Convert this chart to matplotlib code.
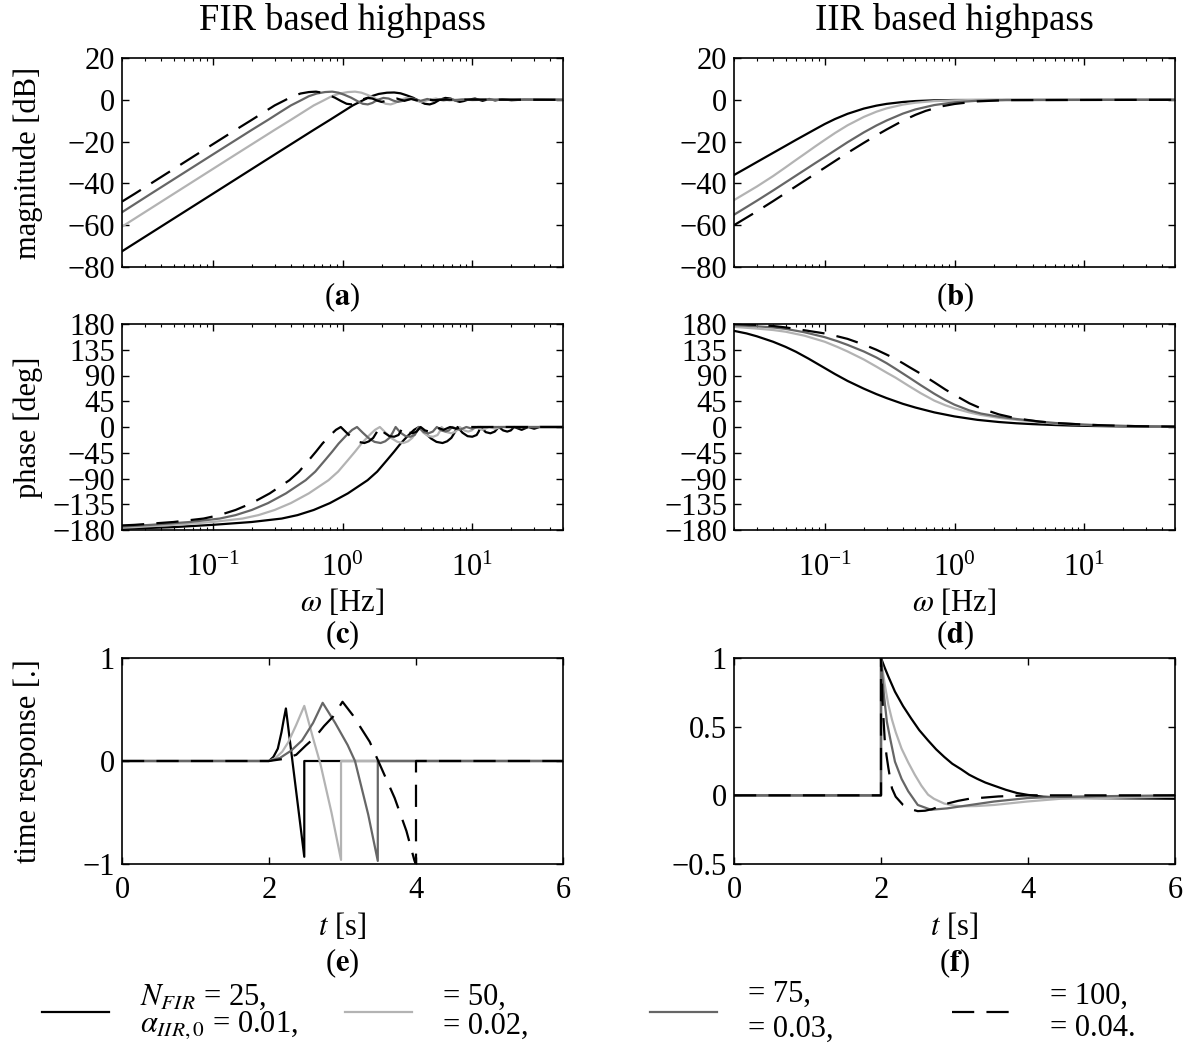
import matplotlib
matplotlib.use("Agg")
import matplotlib.pyplot as plt
from matplotlib import ticker

plt.rcParams["font.family"] = ["Liberation Serif", "DejaVu Serif"]
plt.rcParams["mathtext.fontset"] = "stix"
plt.rcParams["font.size"] = 22
plt.rcParams["axes.linewidth"] = 1.2

# filter settings (legend)
n_fir = [25, 50, 75, 100]
alpha_iir = [0.01, 0.02, 0.03, 0.04]

# (a) FIR magnitude, dB over frequency in Hz
fir_mag_f1 = [0.02, 0.1, 0.3, 0.6, 0.8, 1.0, 1.2, 1.42, 1.65, 1.9, 2.2, 2.5, 2.8, 3.1, 3.5, 3.9, 4.3,
              4.7, 5.1, 5.6, 6.2, 6.8, 7.4, 8.0, 8.6, 9.2, 10.5, 12, 13.5, 15, 17, 20, 25, 50]
fir_mag_f2 = [0.02, 0.05, 0.15, 0.3, 0.4, 0.5, 0.6, 0.71, 0.825, 0.95, 1.1, 1.25, 1.4, 1.55, 1.75, 1.95,
              2.15, 2.35, 2.55, 2.8, 3.1, 3.4, 3.7, 4.0, 4.3, 4.6, 5.25, 6, 6.75, 7.5, 8.5, 10, 12.5, 50]
fir_mag_f3 = [0.02, 0.0333, 0.1, 0.2, 0.267, 0.333, 0.4, 0.473, 0.55, 0.633, 0.733, 0.833, 0.933, 1.033,
              1.167, 1.3, 1.433, 1.567, 1.7, 1.867, 2.067, 2.267, 2.467, 2.667, 2.867, 3.067, 3.5, 4,
              4.5, 5, 5.667, 6.667, 8.333, 50]
fir_mag_f4 = [0.02, 0.025, 0.075, 0.15, 0.2, 0.25, 0.3, 0.355, 0.4125, 0.475, 0.55, 0.625, 0.7, 0.775,
              0.875, 0.975, 1.075, 1.175, 1.275, 1.4, 1.55, 1.7, 1.85, 2.0, 2.15, 2.3, 2.625, 3, 3.375,
              3.75, 4.25, 5, 6.25, 50]
fir_mag_db1 = [-72.5, -45, -26.2, -14.4, -9.6, -5.8, -2.7, -0.4, 1.6, 2.8, 3.4, 3.5, 3.1, 2.2, 1.0, -0.6,
               -1.9, -2.2, -1.5, 0, 0.9, 0.6, -0.4, -1.0, -0.6, 0, 0.6, -0.5, 0.4, -0.3, 0.3, -0.2, 0.1, 0]
fir_mag_db2 = [-60.7, -45, -26.2, -14.4, -9.6, -5.8, -2.7, -0.4, 1.7, 3.0, 3.7, 3.9, 3.4, 2.4, 1.0, -0.6,
               -1.9, -2.2, -1.5, 0, 0.9, 0.6, -0.4, -1.0, -0.6, 0, 0.6, -0.5, 0.4, -0.3, 0.3, -0.2, 0.1, 0]
fir_mag_db3 = [-53.8, -45, -26.2, -14.4, -9.6, -5.8, -2.7, -0.4, 1.7, 3.0, 3.7, 3.9, 3.4, 2.4, 1.0, -0.6,
               -1.9, -2.2, -1.5, 0, 0.9, 0.6, -0.4, -1.0, -0.6, 0, 0.6, -0.5, 0.4, -0.3, 0.3, -0.2, 0.1, 0]
fir_mag_db4 = [-48.7, -45, -26.2, -14.4, -9.6, -5.8, -2.7, -0.4, 1.7, 3.0, 3.7, 3.9, 3.4, 2.4, 1.0, -0.6,
               -1.9, -2.2, -1.5, 0, 0.9, 0.6, -0.4, -1.0, -0.6, 0, 0.6, -0.5, 0.4, -0.3, 0.3, -0.2, 0.1, 0]

# (c) FIR phase, deg
fir_ph_f1 = [0.02, 0.05, 0.1, 0.2, 0.34, 0.45, 0.6, 0.8, 1.1, 1.3, 1.56, 1.85, 2.2, 2.5, 2.8, 3.2, 3.56,
             3.88, 4.3, 4.8, 5.3, 5.9, 6.4, 6.9, 7.3, 7.7, 8.4, 9.2, 10, 10.8, 11.2, 11.6, 12.7, 13.8,
             14.9, 16, 17.3, 18.6, 19.8, 21, 24, 27, 30, 33, 50]
fir_ph_deg1 = [-178, -175, -171, -166, -160, -154, -145, -133, -116, -105, -93, -78, -58, -43, -29, -15,
               -5, 0, -10, -20, -26, -28, -25, -19, -10, 0, -10, -16, -17, -14, -8, 0, -9, -11,
               -8, 0, -6, -8, -6, 0, -5, 0, -3, 0, 0]
fir_ph_f2 = [0.02, 0.025, 0.05, 0.1, 0.17, 0.225, 0.3, 0.4, 0.55, 0.65, 0.78, 0.925, 1.1, 1.25, 1.4, 1.6,
             1.78, 1.94, 2.15, 2.4, 2.65, 2.95, 3.2, 3.45, 3.65, 3.85, 4.2, 4.6, 5, 5.4, 5.6, 5.8, 6.35,
             6.9, 7.45, 8, 8.65, 9.3, 9.9, 10.5, 12, 13.5, 15, 16.5, 50]
fir_ph_deg2 = [-176, -175, -171, -166, -160, -154, -145, -133, -116, -105, -93, -78, -58, -43, -29, -15,
               -5, 0, -10, -20, -26, -28, -25, -19, -10, 0, -10, -16, -17, -14, -8, 0, -9, -11,
               -8, 0, -6, -8, -6, 0, -5, 0, -3, 0, 0]
fir_ph_f3 = [0.02, 0.0333, 0.0667, 0.1133, 0.15, 0.2, 0.2667, 0.3667, 0.4333, 0.52, 0.6167, 0.7333,
             0.8333, 0.9333, 1.0667, 1.1867, 1.2933, 1.4333, 1.6, 1.7667, 1.9667, 2.1333, 2.3, 2.4333,
             2.5667, 2.8, 3.0667, 3.3333, 3.6, 3.7333, 3.8667, 4.2333, 4.6, 4.9667, 5.3333, 5.7667, 6.2,
             6.6, 7, 8, 9, 10, 11, 50]
fir_ph_deg3 = [-174, -171, -166, -160, -154, -145, -133, -116, -105, -93, -78, -58, -43, -29, -15, -5, 0,
               -10, -20, -26, -28, -25, -19, -10, 0, -10, -16, -17, -14, -8, 0, -9, -11, -8, 0, -6, -8,
               -6, 0, -5, 0, -3, 0, 0]
fir_ph_f4 = [0.02, 0.025, 0.05, 0.085, 0.1125, 0.15, 0.2, 0.275, 0.325, 0.39, 0.4625, 0.55, 0.625, 0.7,
             0.8, 0.89, 0.97, 1.075, 1.2, 1.325, 1.475, 1.6, 1.725, 1.825, 1.925, 2.1, 2.3, 2.5, 2.7,
             2.8, 2.9, 3.175, 3.45, 3.725, 4, 4.325, 4.65, 4.95, 5.25, 6, 6.75, 7.5, 8.25, 50]
fir_ph_deg4 = [-172, -171, -166, -160, -154, -145, -133, -116, -105, -93, -78, -58, -43, -29, -15, -5, 0,
               -10, -20, -26, -28, -25, -19, -10, 0, -10, -16, -17, -14, -8, 0, -9, -11, -8, 0, -6, -8,
               -6, 0, -5, 0, -3, 0, 0]

# (b) IIR magnitude, dB
iir_mag_f1 = [0.02, 0.025, 0.03, 0.04, 0.05, 0.06, 0.07, 0.085, 0.1, 0.12, 0.15, 0.2, 0.25, 0.3, 0.4,
              0.5, 0.7, 1, 50]
iir_mag_db1 = [-36, -32.6, -29.8, -25.4, -22, -19.2, -16.9, -14, -11.6, -9.2, -6.7, -4.2, -2.8, -1.95,
               -1.05, -0.6, -0.25, -0.1, 0]
iir_mag_f2 = [0.02, 0.03, 0.04, 0.05, 0.06, 0.07, 0.085, 0.1, 0.12, 0.15, 0.2, 0.25, 0.3, 0.4, 0.5, 0.7,
              1.0, 1.5, 50]
iir_mag_db2 = [-48, -41.5, -36.5, -32.3, -28.8, -25.9, -22.2, -19.2, -15.9, -12.2, -8.2, -5.7, -4.1, -2.3,
               -1.4, -0.6, -0.25, -0.08, 0]
iir_mag_f3 = [0.02, 0.03, 0.04, 0.05, 0.06, 0.07, 0.085, 0.1, 0.12, 0.15, 0.2, 0.25, 0.3, 0.4, 0.5, 0.7,
              1.0, 1.5, 2.5, 50]
iir_mag_db3 = [-55, -48.3, -43.4, -39.5, -36.3, -33.6, -30.2, -27.4, -24.2, -20.3, -15.6, -12.3, -9.9,
               -6.6, -4.6, -2.5, -1.2, -0.45, -0.1, 0]
iir_mag_f4 = [0.02, 0.03, 0.04, 0.05, 0.06, 0.07, 0.085, 0.1, 0.12, 0.15, 0.2, 0.25, 0.3, 0.4, 0.5, 0.6,
              0.8, 1.0, 1.5, 2.5, 50]
iir_mag_db4 = [-60, -53.4, -48.5, -44.6, -41.4, -38.7, -35.3, -32.5, -29.3, -25.4, -20.6, -17, -14.2, -10,
               -7.2, -5.3, -3.1, -2, -0.75, -0.15, 0]

# (d) IIR phase, deg
iir_ph_f1 = [0.02, 0.025, 0.03, 0.04, 0.05, 0.06, 0.075, 0.1, 0.12, 0.15, 0.2, 0.25, 0.3, 0.4, 0.5, 0.7,
             1.0, 1.5, 2.2, 3, 4, 6, 8, 12, 20, 50]
iir_ph_deg1 = [168, 163.5, 158.5, 149, 140, 131.5, 119.5, 103, 92.5, 80.5, 67, 57.5, 50.5, 40.5, 34, 25.5,
               18.5, 12.5, 8.7, 6.5, 5, 3.4, 2.5, 1.7, 1, 0.4]
iir_ph_f2 = [0.02, 0.03, 0.04, 0.05, 0.07, 0.1, 0.125, 0.15, 0.2, 0.25, 0.3, 0.35, 0.45, 0.55, 0.7, 0.85,
             1.0, 1.3, 1.6, 2.2, 3, 4.5, 6, 10, 15, 25, 50]
iir_ph_deg2 = [175, 172, 169.5, 166.5, 159.5, 149, 140, 132, 118, 105.5, 95, 86.5, 71, 59, 46, 38, 32.5,
               25.5, 21, 16, 12.5, 8.5, 6, 3.7, 2.3, 1.3, 0.5]
iir_ph_f3 = [0.02, 0.03, 0.04, 0.05, 0.07, 0.1, 0.125, 0.15, 0.2, 0.25, 0.3, 0.35, 0.4, 0.45, 0.55, 0.7,
             0.85, 1.0, 1.3, 1.6, 2.2, 3, 4.5, 6, 10, 15, 25, 50]
iir_ph_deg3 = [178, 176, 174, 171.5, 165.5, 157, 150, 143.5, 132, 121.5, 111.5, 102, 93.5, 86, 73, 58, 47,
               39, 29, 23.5, 18, 14, 9.5, 7, 4.2, 2.7, 1.5, 0.6]
iir_ph_f4 = [0.02, 0.03, 0.04, 0.05, 0.07, 0.1, 0.125, 0.15, 0.2, 0.25, 0.3, 0.35, 0.4, 0.45, 0.55, 0.7,
             0.85, 1.0, 1.3, 1.6, 2.2, 3, 4.5, 6, 10, 15, 25, 50]
iir_ph_deg4 = [180, 178.5, 176.5, 174, 169, 163.5, 158.5, 154, 144, 135, 126.5, 119, 111.5, 104.5, 93, 78,
               65.5, 56, 41.5, 32.5, 22, 15, 9.5, 7, 4.2, 2.7, 1.5, 0.6]

# (e) FIR time response
fir_t1 = [0, 2.0, 2.06, 2.12, 2.17, 2.2, 2.23, 2.48, 2.48, 6]
fir_y1 = [0, 0, 0.04, 0.12, 0.28, 0.4, 0.51, -0.93, 0, 0]
fir_t2 = [0, 2.0, 2.08, 2.18, 2.26, 2.37, 2.48, 2.6, 2.7, 2.85, 2.98, 2.98, 6]
fir_y2 = [0, 0, 0.025, 0.09, 0.18, 0.35, 0.535, 0.22, -0.03, -0.5, -0.96, 0, 0]
fir_t3 = [0, 2.0, 2.15, 2.3, 2.45, 2.6, 2.73, 2.9, 3.07, 3.17, 3.35, 3.48, 3.48, 6]
fir_y3 = [0, 0, 0.03, 0.1, 0.2, 0.37, 0.565, 0.37, 0.155, 0, -0.52, -0.97, 0, 0]
fir_t4 = [0, 2.0, 2.2, 2.37, 2.5, 2.62, 2.75, 2.87, 3.0, 3.14, 3.37, 3.53, 3.71, 3.87, 3.98, 4.0, 4.0, 6]
fir_y4 = [0, 0, 0.02, 0.06, 0.15, 0.226, 0.34, 0.43, 0.575, 0.445, 0.187, -0.07, -0.36, -0.68, -0.97,
          -1.0, 0, 0]

# (f) IIR time response
iir_t1 = [0, 2.0, 2.0, 2.05, 2.1, 2.19, 2.3, 2.41, 2.52, 2.64, 2.75, 2.86, 2.97, 3.09, 3.2, 3.31, 3.42,
          3.54, 3.7, 3.85, 4.0, 4.21, 4.5, 4.89, 6]
iir_y1 = [0, 0, 1.0, 0.93, 0.865, 0.755, 0.65, 0.56, 0.475, 0.40, 0.335, 0.28, 0.23, 0.19, 0.15, 0.12,
          0.093, 0.07, 0.04, 0.017, 0.003, -0.01, -0.017, -0.02, -0.025]
iir_t2 = [0, 2.0, 2.0, 2.05, 2.1, 2.15, 2.2, 2.28, 2.37, 2.46, 2.55, 2.64, 2.72, 2.86, 3.0, 3.09, 3.3,
          3.54, 3.99, 4.44, 6]
iir_y2 = [0, 0, 1.0, 0.81, 0.66, 0.55, 0.46, 0.34, 0.24, 0.15, 0.07, 0.005, -0.025, -0.06, -0.075, -0.08,
          -0.078, -0.07, -0.045, -0.025, -0.01]
iir_t3 = [0, 2.0, 2.0, 2.04, 2.08, 2.13, 2.19, 2.28, 2.37, 2.5, 2.68, 2.9, 3.09, 3.54, 3.99, 4.44, 6]
iir_y3 = [0, 0, 1.0, 0.73, 0.535, 0.4, 0.245, 0.12, 0.03, -0.07, -0.105, -0.095, -0.08, -0.045, -0.02,
          -0.01, 0]
iir_t4 = [0, 2.0, 2.0, 2.025, 2.05, 2.075, 2.1, 2.125, 2.15, 2.2, 2.3, 2.4, 2.5, 2.6, 2.7, 2.9, 3.05, 3.2,
          3.6, 4.0, 6]
iir_y4 = [0, 0, 1.0, 0.64, 0.41, 0.29, 0.2, 0.12, 0.05, -0.01, -0.07, -0.1, -0.115, -0.112, -0.1, -0.06,
          -0.04, -0.025, -0.008, 0, 0]

styles = [
    dict(color="black", lw=1.6),
    dict(color="#b3b3b3", lw=1.6),
    dict(color="#666666", lw=1.6),
    dict(color="black", lw=1.6, dashes=(10, 5.5)),
]

W, H = 1196, 1048
fig = plt.figure(figsize=(W / 100, H / 100), dpi=100)

col_x = [122, 734]
col_w = 441
rows = [(58, 267), (324, 530), (658, 864)]


def make_ax(r, c):
    top, bot = rows[r]
    return fig.add_axes([col_x[c] / W, 1 - bot / H, col_w / W, (bot - top) / H])


axs = [[make_ax(r, c) for c in range(2)] for r in range(3)]


def draw(ax, xs, ys):
    return [ax.plot(x, y, **st)[0] for x, y, st in zip(xs, ys, styles)]


handles = draw(axs[0][0], [fir_mag_f1, fir_mag_f2, fir_mag_f3, fir_mag_f4],
               [fir_mag_db1, fir_mag_db2, fir_mag_db3, fir_mag_db4])
draw(axs[0][1], [iir_mag_f1, iir_mag_f2, iir_mag_f3, iir_mag_f4],
     [iir_mag_db1, iir_mag_db2, iir_mag_db3, iir_mag_db4])
draw(axs[1][0], [fir_ph_f1, fir_ph_f2, fir_ph_f3, fir_ph_f4],
     [fir_ph_deg1, fir_ph_deg2, fir_ph_deg3, fir_ph_deg4])
draw(axs[1][1], [iir_ph_f1, iir_ph_f2, iir_ph_f3, iir_ph_f4],
     [iir_ph_deg1, iir_ph_deg2, iir_ph_deg3, iir_ph_deg4])
draw(axs[2][0], [fir_t1, fir_t2, fir_t3, fir_t4], [fir_y1, fir_y2, fir_y3, fir_y4])
draw(axs[2][1], [iir_t1, iir_t2, iir_t3, iir_t4], [iir_y1, iir_y2, iir_y3, iir_y4])

num_fmt = ticker.FuncFormatter(lambda v, p: f"{v:g}".replace("-", "\u2212"))

for r in range(3):
    for c in range(2):
        ax = axs[r][c]
        ax.tick_params(which="both", direction="in", top=True, right=True, pad=5)
        ax.tick_params(which="major", length=5, width=1)
        ax.tick_params(which="minor", length=2.5, width=0.8)
        if r < 2:
            ax.set_xscale("log")
            ax.set_xlim(0.02, 50)
            ax.xaxis.set_minor_formatter(ticker.NullFormatter())
        else:
            ax.set_xlim(0, 6)
            ax.set_xticks([0, 2, 4, 6])
        if r == 0:
            ax.set_ylim(-80, 20)
            ax.set_yticks(range(-80, 21, 20))
            ax.tick_params(labelbottom=False)
        elif r == 1:
            ax.set_ylim(-180, 180)
            ax.set_yticks(range(-180, 181, 45))
            ax.tick_params(axis="x", which="major", pad=17)
            ax.set_xlabel(r"$\omega$ [Hz]", labelpad=3)
        else:
            ax.tick_params(axis="x", which="major", pad=9)
            ax.set_xlabel(r"$t$ [s]", labelpad=4)
        ax.yaxis.set_major_formatter(num_fmt)

axs[2][0].set_ylim(-1, 1)
axs[2][0].set_yticks([-1, 0, 1])
axs[2][1].set_ylim(-0.5, 1)
axs[2][1].set_yticks([-0.5, 0, 0.5, 1])

axs[0][0].set_title("FIR based highpass", pad=20)
axs[0][1].set_title("IIR based highpass", pad=20)

for r, text in enumerate(["magnitude [dB]", "phase [deg]", "time response [.]"]):
    axs[r][0].set_ylabel(text)
    axs[r][0].yaxis.set_label_coords(-0.18, 0.5)

# panel letters below each axes (offset in pixels)
letters = [["a", "b"], ["c", "d"], ["e", "f"]]
offsets = [30, 105, 99]
for r in range(3):
    for c in range(2):
        axs[r][c].annotate(r"($\mathbf{%s}$)" % letters[r][c], xy=(0.5, 0), xycoords="axes fraction",
                           xytext=(0, -offsets[r] * 0.72), textcoords="offset points",
                           ha="center", va="center")

# legend entries, one per filter setting
leg_x = [42, 345, 650, 952]
leg_spacing = [0.85, 1.0, 1.25, 1.15]
for i, h in enumerate(handles):
    end = "." if i == len(handles) - 1 else ","
    if i == 0:
        label = (r"$N_{FIR}$ = %d," % n_fir[i]) + "\n" + (r"$\alpha_{IIR,0}$ = %.2f%s" % (alpha_iir[i], end))
    else:
        label = "= %d,\n= %.2f%s" % (n_fir[i], alpha_iir[i], end)
    leg = fig.legend([h], [label], loc="center left", bbox_to_anchor=(leg_x[i] / W, 1 - 1012 / H),
                     frameon=False, handlelength=2.2, handletextpad=1.0, borderpad=0,
                     borderaxespad=0, fontsize=22)
    for t in leg.get_texts():
        t.set_linespacing(leg_spacing[i])

fig.savefig("out.png", dpi=100)
